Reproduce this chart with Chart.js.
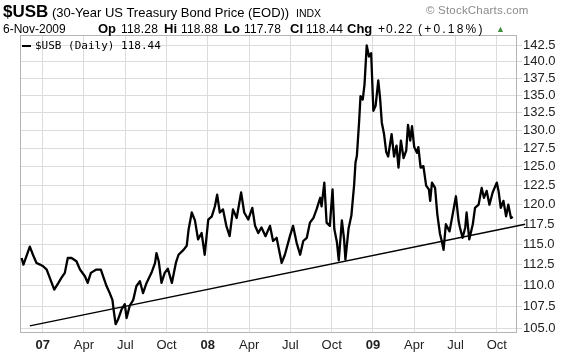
<!DOCTYPE html>
<html><head><meta charset="utf-8">
<script src="https://cdn.jsdelivr.net/npm/chart.js@4.4.0/dist/chart.umd.min.js"></script>
<style>
html,body{margin:0;padding:0;background:#fff;}
#wrap{position:relative;width:576px;height:356px;overflow:hidden;font-family:"Liberation Sans",Arial,sans-serif;color:#000;}
canvas{position:absolute;left:0;top:0;}
.t{position:absolute;white-space:nowrap;line-height:1;}
.b{font-weight:bold;font-size:13px;}
.v{font-size:12px;letter-spacing:0.2px;}
</style></head><body>
<div id="wrap">
<canvas id="c" width="576" height="356"></canvas>
<div class="t" style="left:3px;top:3px;"><span style="font-weight:bold;font-size:17px">$USB</span><span style="font-size:13px"> (30-Year US Treasury Bond Price (EOD))</span></div>
<div class="t" style="left:296px;top:8px;font-size:10.5px;">INDX</div>
<div class="t" style="left:426px;top:5px;font-size:11.5px;color:#8a8a8a;letter-spacing:0.2px;">© StockCharts.com</div>
<div class="t" style="left:3px;top:23px;font-size:12px;">6-Nov-2009</div>
<div class="t b" style="left:98px;top:22px;">Op</div>
<div class="t v" style="left:121px;top:23px;">118.28</div>
<div class="t b" style="left:164px;top:22px;">Hi</div>
<div class="t v" style="left:181px;top:23px;">118.88</div>
<div class="t b" style="left:224px;top:22px;">Lo</div>
<div class="t v" style="left:244px;top:23px;">117.78</div>
<div class="t b" style="left:290px;top:22px;">Cl</div>
<div class="t v" style="left:306px;top:23px;">118.44</div>
<div class="t b" style="left:347px;top:22px;">Chg</div>
<div class="t v" style="left:378px;top:23px;letter-spacing:1px;">+0.22</div>
<div class="t v" style="left:418px;top:23px;letter-spacing:2.2px;">(+0.18%)</div>
<div class="t" style="left:496px;top:25px;color:#3f8f3f;font-size:9px;">▲</div>
<div class="t" style="left:22px;top:40px;font-family:'DejaVu Sans Mono',monospace;font-size:11px;"><span style="display:inline-block;width:9px;height:2px;background:#000;vertical-align:middle;margin-right:4px;"></span>$USB (Daily) 118.44</div>
</div>
<script>
// ---- data ----
const priceDates = [
 '2006-11-15','2006-11-19','2006-12-03','2006-12-10','2006-12-18','2006-12-26',
 '2007-01-02','2007-01-10','2007-01-17','2007-01-27','2007-02-05','2007-02-11','2007-02-18','2007-02-24',
 '2007-03-04','2007-03-15','2007-03-23','2007-04-03','2007-04-09','2007-04-16','2007-04-28',
 '2007-05-08','2007-05-13','2007-05-21','2007-05-28','2007-06-03','2007-06-06','2007-06-10','2007-06-15',
 '2007-06-23','2007-06-30','2007-07-04','2007-07-11','2007-07-19','2007-07-26','2007-08-03','2007-08-10',
 '2007-08-18','2007-08-29','2007-09-06','2007-09-09','2007-09-14','2007-09-20','2007-09-27','2007-10-04',
 '2007-10-13','2007-10-22','2007-10-28','2007-11-08','2007-11-15','2007-11-19','2007-11-26','2007-12-03',
 '2007-12-10','2007-12-18','2007-12-25',
 '2008-01-02','2008-01-10','2008-01-17','2008-01-22','2008-01-28','2008-02-04','2008-02-11','2008-02-18',
 '2008-02-25','2008-03-04','2008-03-14','2008-03-21','2008-03-30','2008-04-08','2008-04-14','2008-04-21',
 '2008-04-28','2008-05-07','2008-05-17','2008-05-24','2008-06-01','2008-06-12','2008-06-19','2008-06-30',
 '2008-07-07','2008-07-15','2008-07-23','2008-07-30','2008-08-07','2008-08-14','2008-08-22','2008-08-29',
 '2008-09-06','2008-09-09','2008-09-15','2008-09-20','2008-09-27','2008-10-03','2008-10-07','2008-10-13',
 '2008-10-17','2008-10-24','2008-10-29','2008-11-01','2008-11-08','2008-11-14','2008-11-20','2008-11-23',
 '2008-11-26','2008-12-01','2008-12-04','2008-12-09','2008-12-13','2008-12-18','2008-12-23','2008-12-28',
 '2009-01-02','2009-01-07','2009-01-13','2009-01-17','2009-01-21','2009-01-26','2009-01-31','2009-02-04',
 '2009-02-11','2009-02-16','2009-02-21','2009-02-25','2009-03-02','2009-03-08','2009-03-14','2009-03-18',
 '2009-03-23','2009-03-27','2009-04-01','2009-04-07','2009-04-10','2009-04-15','2009-04-21','2009-04-27',
 '2009-05-03','2009-05-06','2009-05-10','2009-05-17','2009-05-22','2009-05-28','2009-06-01','2009-06-05',
 '2009-06-10','2009-06-18','2009-06-25','2009-07-02','2009-07-08','2009-07-11','2009-07-17','2009-07-23',
 '2009-07-26','2009-08-01','2009-08-09','2009-08-14','2009-08-22','2009-08-29','2009-09-03','2009-09-09',
 '2009-09-15','2009-09-22','2009-10-01','2009-10-05','2009-10-10','2009-10-16','2009-10-22','2009-10-27',
 '2009-11-02','2009-11-06'
];
const priceValues = [
 113.3,112.5,114.7,113.7,112.7,112.5,
 112.3,111.9,110.9,109.5,110.3,110.9,111.5,113.3,
 113.3,112.9,111.9,111.1,110.3,111.5,111.9,
 111.9,111.1,109.9,109.1,108.3,107.0,105.5,106.0,
 107.2,107.8,106.2,107.6,108.3,109.9,110.5,109.1,
 110.3,111.5,112.7,113.9,112.9,110.3,111.5,112.0,
 110.3,112.7,113.7,114.3,114.8,116.8,119.0,118.0,
 115.6,116.4,113.7,
 118.1,118.5,119.8,121.3,119.0,119.4,117.3,116.0,
 119.4,118.3,121.6,119.0,118.1,119.6,117.3,116.4,
 117.1,116.0,117.3,115.4,115.8,112.7,113.7,116.0,
 117.3,115.2,113.7,115.4,115.8,117.7,118.3,119.4,
 120.9,119.8,122.9,117.7,117.3,122.0,116.9,115.2,
 113.0,118.0,115.6,113.1,117.0,118.6,122.6,125.6,
 126.5,131.4,134.9,134.4,136.6,142.5,140.8,141.3,
 132.8,133.5,137.2,134.7,131.1,129.5,127.0,126.4,
 129.5,126.4,127.9,124.9,128.6,126.2,127.2,130.8,
 128.6,130.6,127.7,126.9,127.7,124.9,125.1,122.5,
 122.0,120.5,122.9,122.2,118.8,116.3,115.4,114.3,
 117.5,116.6,118.8,121.1,117.9,117.1,115.8,117.1,
 119.0,115.6,117.5,119.6,120.0,122.2,120.9,121.8,
 120.0,121.6,122.9,121.8,119.6,120.5,118.5,120.0,
 118.3,118.44
];
const trendDates = ['2006-12-03','2009-12-03'];
const trendValues = [105.3, 117.5];
const yTicks = [105,107.5,110,112.5,115,117.5,120,122.5,125,127.5,130,132.5,135,137.5,140,142.5];
const xTickLabels = ['07','Apr','Jul','Oct','08','Apr','Jul','Oct','09','Apr','Jul','Oct'];

function toM(s){const p=s.split('-').map(Number);const dim=new Date(p[0],p[1],0).getDate();return (p[0]-2007)*12+(p[1]-1)+(p[2]-1)/dim;}

const frame={id:'frame',beforeDatasetsDraw(ch){const a=ch.chartArea,c=ch.ctx;c.save();c.strokeStyle='#b4b4b4';c.lineWidth=1;c.strokeRect(Math.round(a.left)+0.5,Math.round(a.top)+0.5,Math.round(a.right-a.left)-1,Math.round(a.bottom-a.top)-1);c.restore();}};

new Chart(document.getElementById('c'),{
 type:'line',
 data:{datasets:[
  {data:priceDates.map((d,i)=>({x:toM(d),y:priceValues[i]})),borderColor:'#000',borderWidth:2.3,pointRadius:0,tension:0,borderJoinStyle:'round'},
  {data:trendDates.map((d,i)=>({x:toM(d),y:trendValues[i]})),borderColor:'#000',borderWidth:1.4,pointRadius:0,tension:0,clip:false}
 ]},
 options:{
  responsive:false,animation:false,devicePixelRatio:1,
  layout:{padding:{left:20,top:35,right:0,bottom:0}},
  plugins:{legend:{display:false},tooltip:{enabled:false}},
  scales:{
   x:{type:'linear',min:-1.65,max:34.47,
      afterBuildTicks:s=>{s.ticks=xTickLabels.map((l,i)=>({value:i*3}));},
      afterFit:s=>{s.height=23;},
      grid:{color:'#dcdcdc',drawTicks:false},border:{display:false},
      ticks:{padding:5,autoSkip:false,maxRotation:0,color:'#222',
        callback:(v,i)=>xTickLabels[i],
        font:c=>({family:'Liberation Sans',size:13,weight:(c.index%4===0)?'bold':'normal'})}},
   y:{type:'logarithmic',position:'right',min:104.5,max:144.1,
      afterBuildTicks:s=>{s.ticks=yTicks.map(v=>({value:v}));},
      afterFit:s=>{s.width=59;},
      grid:{color:'#dcdcdc',tickLength:5},border:{display:false},
      ticks:{padding:1,autoSkip:false,color:'#222',callback:v=>Number(v).toFixed(1),
        font:{family:'Liberation Sans',size:13}}}
  }
 },
 plugins:[frame]
});
</script>
</body></html>
